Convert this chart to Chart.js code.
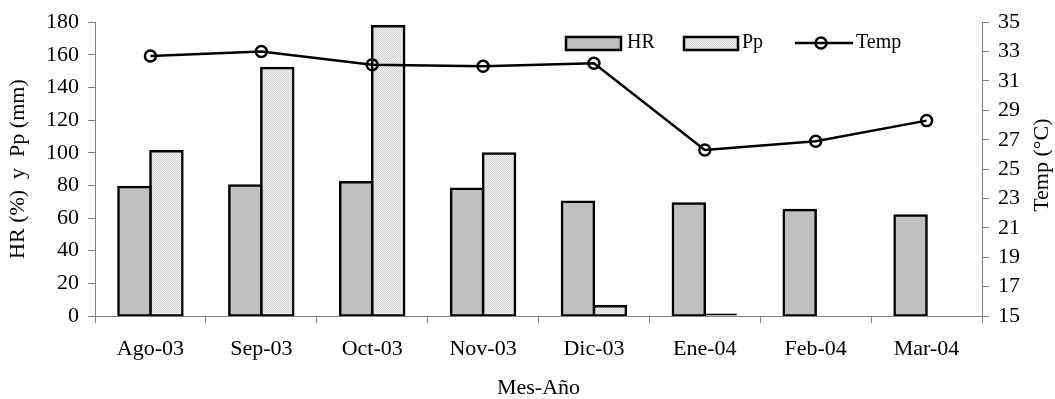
<!DOCTYPE html>
<html>
<head>
<meta charset="utf-8">
<script src="https://cdn.jsdelivr.net/npm/chart.js@4/dist/chart.umd.min.js"></script>
<style>
  html, body { margin: 0; padding: 0; background: #ffffff; }
  #wrap { width: 1055px; height: 399px; }
</style>
</head>
<body>
<div id="wrap"><canvas id="c" width="1055" height="399"></canvas></div>
<script>
// Monthly climate record: relative humidity, rainfall and mean temperature
const months = ['Ago-03', 'Sep-03', 'Oct-03', 'Nov-03', 'Dic-03', 'Ene-04', 'Feb-04', 'Mar-04'];
const hrValues = [79, 80, 82, 78, 70, 69, 65, 61.5];          // HR (%)
const ppValues = [101, 152, 177.5, 99.5, 6, 1.5, 0, 0];        // Pp (mm)
const tempValues = [32.7, 33.0, 32.1, 32.0, 32.2, 26.3, 26.9, 28.3]; // Temp (°C)

const FONT = 'Liberation Serif, "Times New Roman", serif';
const AXIS_GREY = '#808080';
const TICK_SIZE = 22;

const canvas = document.getElementById('c');
const ctx = canvas.getContext('2d');

// fine dotted fill used for the rainfall bars
function dottedFill() {
  const p = document.createElement('canvas');
  p.width = 2; p.height = 2;
  const g = p.getContext('2d');
  g.fillStyle = '#f3f3f3'; g.fillRect(0, 0, 2, 2);
  g.fillStyle = '#d2d2d2'; g.fillRect(0, 0, 1, 1); g.fillRect(1, 1, 1, 1);
  return ctx.createPattern(p, 'repeat');
}
const ppFill = dottedFill();

// bars share their outlines with the neighbour; very short bars stay a solid stroke
const barInflate = (c) => (c.raw !== undefined && c.raw < 3 ? 0 : 1.25);

// legend inside the plot area plus the right-hand axis title (read bottom-to-top)
const extras = {
  id: 'extras',
  afterDraw(chart) {
    const c = chart.ctx;
    c.save();
    c.font = '20px ' + FONT;
    c.fillStyle = '#000';
    c.textBaseline = 'middle';
    c.textAlign = 'left';
    const ly = 43;

    // HR swatch
    c.fillStyle = '#c0c0c0';
    c.fillRect(566, 37, 55, 13);
    c.lineWidth = 2.5; c.strokeStyle = '#000';
    c.strokeRect(566, 37, 55, 13);
    c.fillStyle = '#000';
    c.fillText('HR', 627, ly);

    // Pp swatch
    c.fillStyle = ppFill;
    c.fillRect(684, 37, 54, 13);
    c.strokeRect(684, 37, 54, 13);
    c.fillStyle = '#000';
    c.fillText('Pp', 742, ly);

    // Temp line + marker
    c.beginPath();
    c.moveTo(795, ly); c.lineTo(853, ly);
    c.stroke();
    c.beginPath();
    c.arc(821, ly, 5.5, 0, Math.PI * 2);
    c.stroke();
    c.fillText('Temp', 856, ly);

    // right axis title
    const area = chart.chartArea;
    c.font = TICK_SIZE + 'px ' + FONT;
    c.translate(1042, (area.top + area.bottom) / 2 - 4);
    c.rotate(-Math.PI / 2);
    c.textAlign = 'center';
    c.fillText('Temp (°C)', 0, 0);
    c.restore();
  }
};

new Chart(ctx, {
  data: {
    labels: months,
    datasets: [
      {
        type: 'line', label: 'Temp', data: tempValues, yAxisID: 'yT', order: 0,
        borderColor: '#000', borderWidth: 2.5, tension: 0, fill: false,
        pointRadius: 5.5, pointBorderWidth: 2.5, pointBorderColor: '#000',
        pointBackgroundColor: 'rgba(0,0,0,0)'
      },
      {
        type: 'bar', label: 'HR', data: hrValues, yAxisID: 'y', order: 1,
        backgroundColor: '#c0c0c0', borderColor: '#000', borderWidth: 2.5,
        borderSkipped: false, inflateAmount: barInflate
      },
      {
        type: 'bar', label: 'Pp', data: ppValues, yAxisID: 'y', order: 1,
        backgroundColor: ppFill, borderColor: '#000', borderWidth: 2.5,
        borderSkipped: false, inflateAmount: barInflate
      }
    ]
  },
  options: {
    responsive: false,
    animation: false,
    devicePixelRatio: 1,
    layout: { padding: { top: 22, left: 0, right: 0, bottom: 0 } },
    datasets: { bar: { categoryPercentage: 0.577, barPercentage: 1 } },
    plugins: { legend: { display: false }, tooltip: { enabled: false } },
    scales: {
      x: {
        offset: true,
        grid: { offset: true, drawOnChartArea: false, tickLength: 7, color: AXIS_GREY, lineWidth: 1 },
        border: { color: AXIS_GREY, width: 1 },
        ticks: { color: '#000', font: { family: FONT, size: TICK_SIZE }, padding: 13, maxRotation: 0, autoSkip: false },
        title: { display: true, text: 'Mes-Año', color: '#000', font: { family: FONT, size: TICK_SIZE, lineHeight: 1 }, padding: 0 },
        afterFit(s) { s.height = 83; }
      },
      y: {
        position: 'left', min: 0, max: 180,
        ticks: { stepSize: 20, color: '#000', font: { family: FONT, size: TICK_SIZE }, padding: 9, autoSkip: false },
        grid: { drawOnChartArea: false, tickLength: 7, color: AXIS_GREY, lineWidth: 1 },
        border: { color: AXIS_GREY, width: 1 },
        title: { display: true, text: 'HR (%)  y  Pp (mm)', color: '#000', font: { family: FONT, size: TICK_SIZE }, padding: { top: 5, bottom: 0 } },
        afterFit(s) { s.width = 95; }
      },
      yT: {
        position: 'right', min: 15, max: 35,
        ticks: { stepSize: 2, color: '#000', font: { family: FONT, size: TICK_SIZE }, padding: 9, autoSkip: false },
        grid: { drawOnChartArea: false, tickLength: 7, color: AXIS_GREY, lineWidth: 1 },
        border: { color: AXIS_GREY, width: 1 },
        afterFit(s) { s.width = 73; }
      }
    }
  },
  plugins: [extras]
});
</script>
</body>
</html>
